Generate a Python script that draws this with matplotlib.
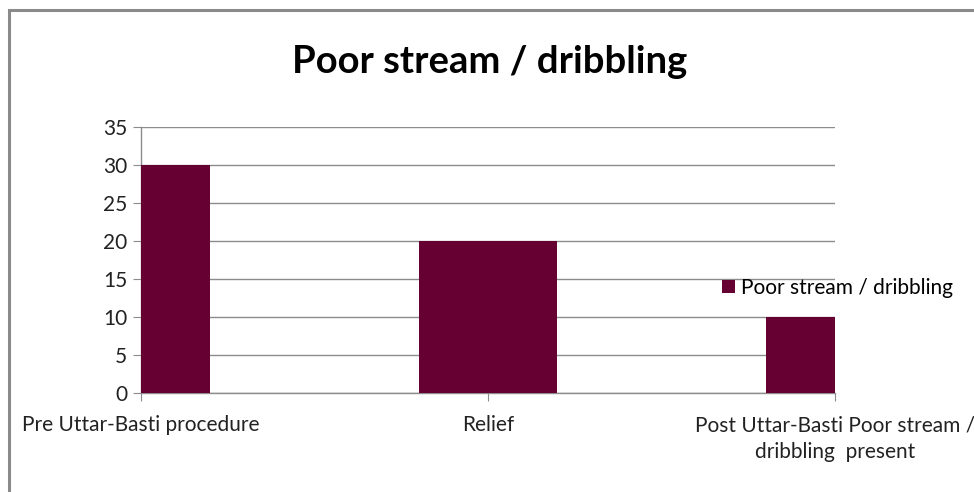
import matplotlib
matplotlib.use("Agg")
import matplotlib.pyplot as plt
from matplotlib.patches import Rectangle

# data
categories = ["Pre Uttar-Basti procedure", "Relief",
              "Post Uttar-Basti Poor stream /\ndribbling  present"]
values = [30, 20, 10]
series_name = "Poor stream / dribbling"
y_ticks = [0, 5, 10, 15, 20, 25, 30, 35]

bar_color = "#660033"
grid_color = "#8c8c8c"
plt.rcParams['font.family'] = ['Lato', 'DejaVu Sans']

fig = plt.figure(figsize=(9.74, 4.92), dpi=100)
fig.patch.set_facecolor("white")

# chart border (right/bottom run off the picture)
fig.patches.append(Rectangle((9 / 974, -0.1), 1.2, (492 - 10) / 492 + 0.1,
                             transform=fig.transFigure, fill=False,
                             edgecolor="#8a8a8a", linewidth=2.2))

ax = fig.add_axes([141 / 974, 99 / 492, 694 / 974, 266 / 492])

xpos = list(range(len(categories)))
ax.bar(xpos, values, width=0.4, color=bar_color, label=series_name, zorder=3)

ax.set_xlim(0, len(categories) - 1)
ax.set_ylim(0, 35)
ax.set_yticks(y_ticks)
ax.set_xticks(xpos)
ax.set_xticklabels(categories, fontsize=15, color="#222222", linespacing=1.4)
ax.tick_params(axis="y", labelsize=15, colors="#222222", length=6, color=grid_color, pad=4)
ax.tick_params(axis="x", length=6, color=grid_color, pad=10)
ax.yaxis.grid(True, color=grid_color, linewidth=1, zorder=0)

for side in ["top", "right"]:
    ax.spines[side].set_visible(False)
for side in ["left", "bottom"]:
    ax.spines[side].set_color(grid_color)
    ax.spines[side].set_linewidth(1)

fig.text(490 / 974, 1 - 62 / 492, "Poor stream / dribbling", ha="center", va="center",
         fontsize=27.5, fontweight="bold", color="black")

ax.legend(loc="center left", bbox_to_anchor=((722 - 141) / 694, (393 - 288) / 266),
          frameon=False, fontsize=15, handlelength=0.6, handleheight=0.6,
          handletextpad=0.3, borderaxespad=0, borderpad=0)

fig.savefig("out.png", dpi=100)
